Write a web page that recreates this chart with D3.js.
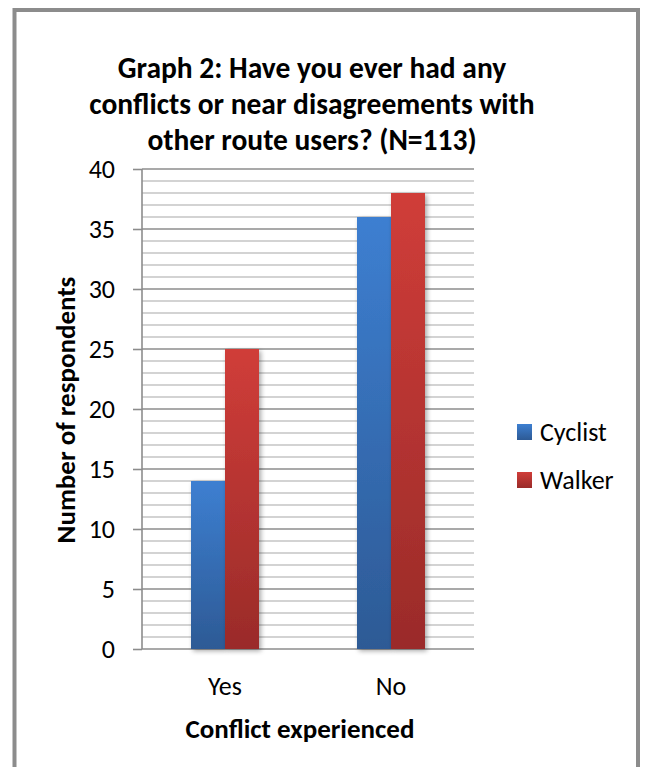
<!DOCTYPE html>
<html><head><meta charset="utf-8">
<script src="https://cdn.jsdelivr.net/npm/d3@7"></script>
<style>
body{margin:0;background:#fff;}
svg{display:block;font-family:Carlito,Calibri,Lato,"Open Sans",sans-serif;}
</style></head><body>
<svg id="c" width="648" height="767"></svg>
<script>
const categories = ["Yes", "No"];
const seriesNames = ["Cyclist", "Walker"];
const cyclist = [14, 36];
const walker = [25, 38];
const yTicks = [0, 5, 10, 15, 20, 25, 30, 35, 40];
const titleLines = ["Graph 2: Have you ever had any", "conflicts or near disagreements with", "other route users? (N=113)"];
const xTitle = "Conflict experienced";
const yTitle = "Number of respondents";

const svg = d3.select("#c");
const W = 648, H = 767;
svg.append("rect").attr("x",0).attr("y",0).attr("width",W).attr("height",H).attr("fill","#fff");
// frame
svg.append("rect").attr("x",14.5).attr("y",10).attr("width",623.5).attr("height",H+20)
  .attr("fill","none").attr("stroke","#8c8c8c").attr("stroke-width",4);

const defs = svg.append("defs");
const grads = [["gC","#3d7fd1","#2d5a95"],["gW","#d03d39","#9a2b29"]];
grads.forEach(([id,c1,c2])=>{
  const g = defs.append("linearGradient").attr("id",id).attr("x1",0).attr("y1",0).attr("x2",0).attr("y2",1);
  g.append("stop").attr("offset","0%").attr("stop-color",c1);
  g.append("stop").attr("offset","100%").attr("stop-color",c2);
});
const f = defs.append("filter").attr("id","sh").attr("x","-20%").attr("y","-5%").attr("width","150%").attr("height","115%");
f.append("feGaussianBlur").attr("in","SourceAlpha").attr("stdDeviation",2.5).attr("result","b");
f.append("feOffset").attr("in","b").attr("dx",2).attr("dy",2).attr("result","o");
f.append("feComponentTransfer").attr("in","o").attr("result","o2")
  .append("feFuncA").attr("type","linear").attr("slope",0.35);
const m = f.append("feMerge");
m.append("feMergeNode").attr("in","o2");
m.append("feMergeNode").attr("in","SourceGraphic");

const x0 = 142, x1 = 474, yTop = 169, yBot = 649;
const y = d3.scaleLinear().domain([0,40]).range([yBot,yTop]);
const x = d3.scaleBand().domain(categories).range([x0,x1]).paddingInner(0).paddingOuter(0);
const xs = d3.scaleBand().domain(seriesNames).range([0, 68]);

// minor gridlines
const minor = d3.range(0,41).filter(v=>v%5!==0);
svg.append("g").selectAll("line").data(minor).join("line")
  .attr("x1",x0).attr("x2",x1).attr("y1",d=>y(d)).attr("y2",d=>y(d))
  .attr("stroke","#c4c4c4").attr("stroke-width",1.6);
// major ticks via axis
const yAxis = svg.append("g").attr("transform",`translate(${x0},0)`)
  .call(d3.axisLeft(y).tickValues(yTicks).tickSize(9).tickPadding(18).tickFormat(d3.format("d")));
yAxis.select(".domain").remove();
yAxis.selectAll(".tick line").attr("stroke","#8c8c8c").attr("stroke-width",1.6);
yAxis.selectAll(".tick text").attr("font-size",26).attr("fill","#000").attr("font-family","Carlito,Calibri,Lato,sans-serif");
svg.append("g").selectAll("line").data(yTicks).join("line")
  .attr("x1",x0).attr("x2",x1).attr("y1",d=>y(d)).attr("y2",d=>y(d))
  .attr("stroke","#8c8c8c").attr("stroke-width",1.6);
svg.append("line").attr("x1",x0).attr("x2",x0).attr("y1",yTop).attr("y2",yBot)
  .attr("stroke","#8c8c8c").attr("stroke-width",1.6);

// bars
const data = categories.map((c,i)=>({cat:c, vals:[{s:"Cyclist",v:cyclist[i],g:"gC"},{s:"Walker",v:walker[i],g:"gW"}]}));
const grp = svg.append("g").selectAll("g").data(data).join("g")
  .attr("transform",d=>`translate(${x(d.cat)+x.bandwidth()/2-34},0)`);
grp.selectAll("rect").data(d=>d.vals).join("rect")
  .attr("x",d=>xs(d.s)).attr("width",xs.bandwidth())
  .attr("y",d=>y(d.v)).attr("height",d=>yBot-y(d.v))
  .attr("fill",d=>`url(#${d.g})`).attr("filter","url(#sh)");

// x labels
svg.append("g").selectAll("text").data(categories).join("text")
  .attr("x",d=>x(d)+x.bandwidth()/2).attr("y",695).attr("text-anchor","middle")
  .attr("font-size",26).attr("fill","#000").text(d=>d);

// titles
svg.append("g").selectAll("text").data(titleLines).join("text")
  .attr("x",312).attr("y",(d,i)=>78+i*36).attr("text-anchor","middle")
  .attr("font-size",29.5).attr("font-weight","bold").attr("fill","#000").text(d=>d);
svg.append("text").attr("x",300).attr("y",738).attr("text-anchor","middle")
  .attr("font-size",27).attr("font-weight","bold").text(xTitle);
svg.append("text").attr("transform","translate(75,410) rotate(-90)").attr("text-anchor","middle")
  .attr("font-size",27).attr("font-weight","bold").text(yTitle);

// legend
const lg = svg.append("g").selectAll("g").data(seriesNames).join("g")
  .attr("transform",(d,i)=>`translate(517,${424+i*48})`);
lg.append("rect").attr("width",15).attr("height",16).attr("fill",(d,i)=>`url(#${grads[i][0]})`);
lg.append("text").attr("x",23).attr("y",17).attr("font-size",26).text(d=>d);
</script></body></html>
